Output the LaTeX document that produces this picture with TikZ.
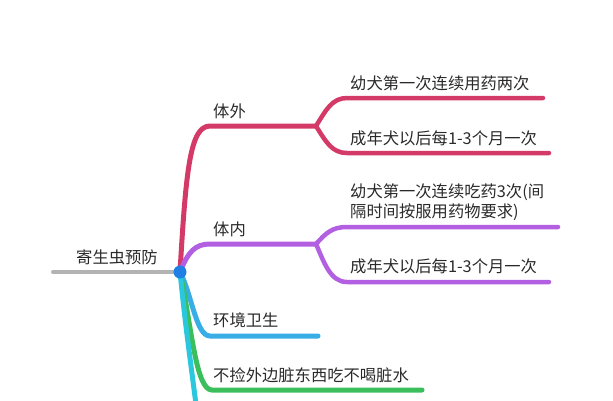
\documentclass[tikz,border=0pt]{standalone}
\usepackage{fontspec}
\setmainfont{Noto Sans CJK SC}
\definecolor{rootgray}{HTML}{B3B3B3}
\definecolor{outred}{HTML}{D43A68}
\definecolor{inpurple}{HTML}{B35FE2}
\definecolor{envblue}{HTML}{38ADE6}
\definecolor{foodgreen}{HTML}{3BBF5C}
\definecolor{moreteal}{HTML}{2BC8DD}
\definecolor{dotblue}{HTML}{1F7FE5}
\definecolor{textgray}{HTML}{2A2A2A}

\begin{document}
\begin{tikzpicture}[x=1pt, y=-1pt, line cap=round, font=\fontsize{16.3}{20}\selectfont,
  main/.style={line width=5pt},
  sub/.style={line width=4.5pt},
  lbl/.style={anchor=west, inner sep=0pt, text=textgray, align=left}]

  \useasboundingbox (0,0) rectangle (613,400);
  \clip (0,0) rectangle (613,400);

  \coordinate (root) at (180,272);
  \coordinate (rStart) at (53,272);
  \coordinate (cOut) at (316,126);
  \coordinate (cIn) at (316,244);
  \coordinate (eEnv) at (318,336);
  \coordinate (eFood) at (422,390);
  \coordinate (eMore) at (197,412);
  \coordinate (eOutA) at (543,98);
  \coordinate (eOutB) at (549,153);
  \coordinate (eInA) at (558,227);
  \coordinate (eInB) at (549,282);

  \draw[main, rootgray, line width=4pt] (rStart) -- (root);
  \draw[main, outred] (root) .. controls (186,170) and (190,126) .. (210,126) -- (cOut);
  \draw[main, inpurple] (root) .. controls (188,252) and (195,244) .. (210,244) -- (cIn);
  \draw[main, envblue] (root) .. controls (192,295) and (196,336) .. (210,336) -- (eEnv);
  \draw[main, foodgreen] (root) .. controls (192,330) and (196,390) .. (212,390) -- (eFood);
  \draw[main, moreteal] (root) .. controls (185,320) .. (eMore);

  \draw[sub, outred] (cOut) .. controls (326,110) and (332,98) .. (347,98) -- (eOutA);
  \draw[sub, outred] (cOut) .. controls (326,142) and (332,153) .. (347,153) -- (eOutB);
  \draw[sub, inpurple] (cIn) .. controls (326,233) and (332,227) .. (347,227) -- (eInA);
  \draw[sub, inpurple] (cIn) .. controls (324,262) and (330,282) .. (347,282) -- (eInB);

  \node[circle, fill=dotblue, inner sep=0pt, minimum size=13pt] (dot) at (root) {};

  \node[lbl] (tRoot) at (76,257) {寄生虫预防};
  \node[lbl] (tOut) at (213,111) {体外};
  \node[lbl] (tIn) at (213,229) {体内};
  \node[lbl] (tEnv) at (213,320) {环境卫生};
  \node[lbl] (tFood) at (213,375) {不捡外边脏东西吃不喝脏水};
  \node[lbl] (tOutA) at (350,83) {幼犬第一次连续用药两次};
  \node[lbl] (tOutB) at (350,138) {成年犬以后每1-3个月一次};
  \node[lbl] (tInA) at (350,202) {幼犬第一次连续吃药3次(间\\隔时间按服用药物要求)};
  \node[lbl] (tInB) at (350,266) {成年犬以后每1-3个月一次};

\end{tikzpicture}
\end{document}
